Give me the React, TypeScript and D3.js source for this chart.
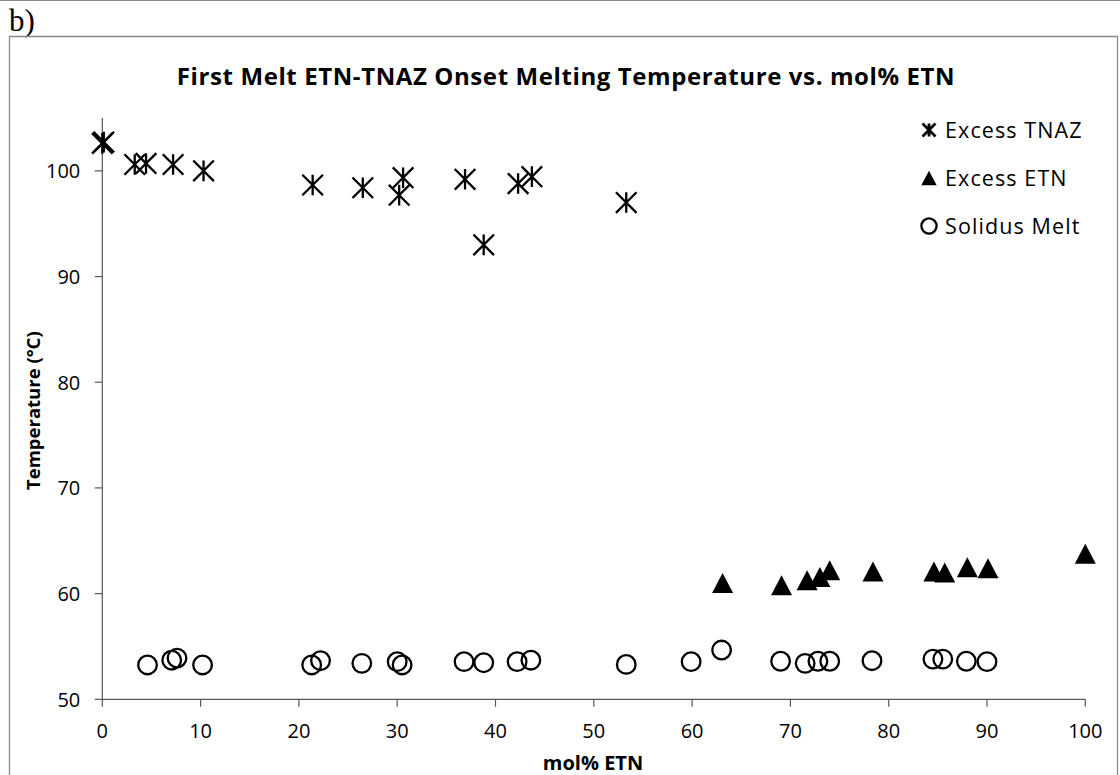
import React from "react";
import * as d3 from "d3";

// Excess TNAZ (asterisk markers)
const tnazMol = [0, 0.15, 3.3, 4.45, 7.2, 10.3, 21.4, 26.5, 30.6, 30.2, 36.9, 38.8, 42.3, 43.7, 53.3];
const tnazTemp = [102.6, 102.72, 100.6, 100.7, 100.6, 100.0, 98.66, 98.4, 99.35, 97.7, 99.2, 93.0, 98.8, 99.45, 97.0];

// Excess ETN (filled triangles)
const etnMol = [63.1, 69.1, 71.7, 73.0, 74.0, 78.4, 84.6, 85.7, 88.0, 90.1, 100];
const etnTemp = [61.0, 60.8, 61.26, 61.57, 62.2, 62.1, 62.1, 62.0, 62.5, 62.4, 63.76];

// Solidus melt (open circles)
const solMol = [4.6, 7.06, 7.6, 10.2, 21.3, 22.2, 26.4, 30.0, 30.5, 36.8, 38.8, 42.2, 43.6, 53.3, 59.9, 63.0, 69.0, 71.5, 72.8, 74.0, 78.3, 84.5, 85.5, 87.9, 90.0];
const solTemp = [53.25, 53.7, 53.9, 53.25, 53.25, 53.65, 53.4, 53.56, 53.25, 53.56, 53.46, 53.56, 53.7, 53.3, 53.56, 54.66, 53.6, 53.4, 53.6, 53.6, 53.65, 53.8, 53.8, 53.6, 53.56];

const xTicks = [0, 10, 20, 30, 40, 50, 60, 70, 80, 90, 100];
const yTicks = [50, 60, 70, 80, 90, 100];

const legendLabels = ["Excess TNAZ", "Excess ETN", "Solidus Melt"];

const W = 1120;
const H = 775;
const FONT = "'Open Sans', 'Liberation Sans', sans-serif";
const AXIS = "#595959";

const x = d3.scaleLinear().domain([0, 100]).range([102.3, 1085.3]);
const y = d3.scaleLinear().domain([50, 105]).range([699.3, 118]);
const fmt = d3.format("d");

const starPath = (s: number) =>
  `M0,${-s}L0,${s}M${-s},${-s}L${s},${s}M${-s},${s}L${s},${-s}`;
const triPath = (s: number) => `M0,${-s}L${s * 1.05},${s}L${-s * 1.05},${s}Z`;

export default function App() {
  const tnaz = tnazMol.map((m, i) => ({ m, t: tnazTemp[i] }));
  const etn = etnMol.map((m, i) => ({ m, t: etnTemp[i] }));
  const sol = solMol.map((m, i) => ({ m, t: solTemp[i] }));

  const x0 = x(0);
  const y0 = y(50);
  const legendY = [130, 178, 226];

  return (
    <svg
      width={W}
      height={H}
      style={{ position: "absolute", left: 0, top: 0, background: "#fff" }}
    >
      <rect x={0} y={0} width={W} height={H} fill="#fff" />
      <line x1={0} x2={W} y1={0.5} y2={0.5} stroke="#8a8a8a" strokeWidth={1.2} />
      <text x={9} y={31} style={{ fontFamily: "'Liberation Serif', 'Times New Roman', serif", fontSize: 31 }}>
        b)
      </text>
      {/* chart frame */}
      <path d={`M9.5,${H + 5}V36.5H1117.5V${H + 5}`} fill="none" stroke="#8a8a8a" strokeWidth={1.3} />

      <text
        x={566}
        y={85}
        textAnchor="middle"
        style={{ fontFamily: FONT, fontSize: 24, fontWeight: 700, letterSpacing: 0.6 }}
      >
        First Melt ETN-TNAZ Onset Melting Temperature vs. mol% ETN
      </text>

      {/* x axis */}
      <g>
        <line x1={x0} x2={x(100)} y1={y0} y2={y0} stroke={AXIS} strokeWidth={1.2} />
        {xTicks.map((t) => (
          <g key={`xt${t}`} transform={`translate(${x(t)},${y0})`}>
            <line y1={0} y2={7.5} stroke={AXIS} strokeWidth={1.2} />
            <text y={39} textAnchor="middle" style={{ fontFamily: FONT, fontSize: 20 }}>
              {fmt(t)}
            </text>
          </g>
        ))}
      </g>
      {/* y axis */}
      <g>
        <line x1={x0} x2={x0} y1={y(105)} y2={y0} stroke={AXIS} strokeWidth={1.2} />
        {yTicks.map((t) => (
          <g key={`yt${t}`} transform={`translate(${x0},${y(t)})`}>
            <line x1={-7.5} x2={0} stroke={AXIS} strokeWidth={1.2} />
            <text x={-22} y={7.3} textAnchor="end" style={{ fontFamily: FONT, fontSize: 20 }}>
              {fmt(t)}
            </text>
          </g>
        ))}
      </g>

      <text
        transform={`translate(40,${(y(50) + y(105)) / 2 + 2}) rotate(-90)`}
        textAnchor="middle"
        style={{ fontFamily: FONT, fontSize: 18.5, fontWeight: 700 }}
      >
        Temperature (°C)
      </text>
      <text
        x={593}
        y={770}
        textAnchor="middle"
        style={{ fontFamily: FONT, fontSize: 20, fontWeight: 700 }}
      >
        mol% ETN
      </text>

      {/* Solidus melt */}
      {sol.map((d, i) => (
        <circle key={`s${i}`} cx={x(d.m)} cy={y(d.t)} r={9.3} fill="none" stroke="#000" strokeWidth={2.3} />
      ))}
      {/* Excess ETN */}
      {etn.map((d, i) => (
        <path key={`e${i}`} d={triPath(10)} transform={`translate(${x(d.m)},${y(d.t)})`} fill="#000" />
      ))}
      {/* Excess TNAZ */}
      {tnaz.map((d, i) => (
        <path
          key={`t${i}`}
          d={starPath(10.3)}
          transform={`translate(${x(d.m)},${y(d.t)})`}
          fill="none"
          stroke="#000"
          strokeWidth={2.3}
        />
      ))}

      {/* legend */}
      <g>
        <path d={starPath(6.5)} transform={`translate(929,${legendY[0]})`} fill="none" stroke="#000" strokeWidth={2.8} />
        <path d={triPath(7.3)} transform={`translate(929,${legendY[1]})`} fill="#000" />
        <circle cx={929} cy={legendY[2]} r={7.6} fill="none" stroke="#000" strokeWidth={2.3} />
        {legendLabels.map((l, i) => (
          <text
            key={l}
            x={945}
            y={legendY[i] + 7.5}
            style={{ fontFamily: FONT, fontSize: 21.5, letterSpacing: 1.1 }}
          >
            {l}
          </text>
        ))}
      </g>
    </svg>
  );
}
